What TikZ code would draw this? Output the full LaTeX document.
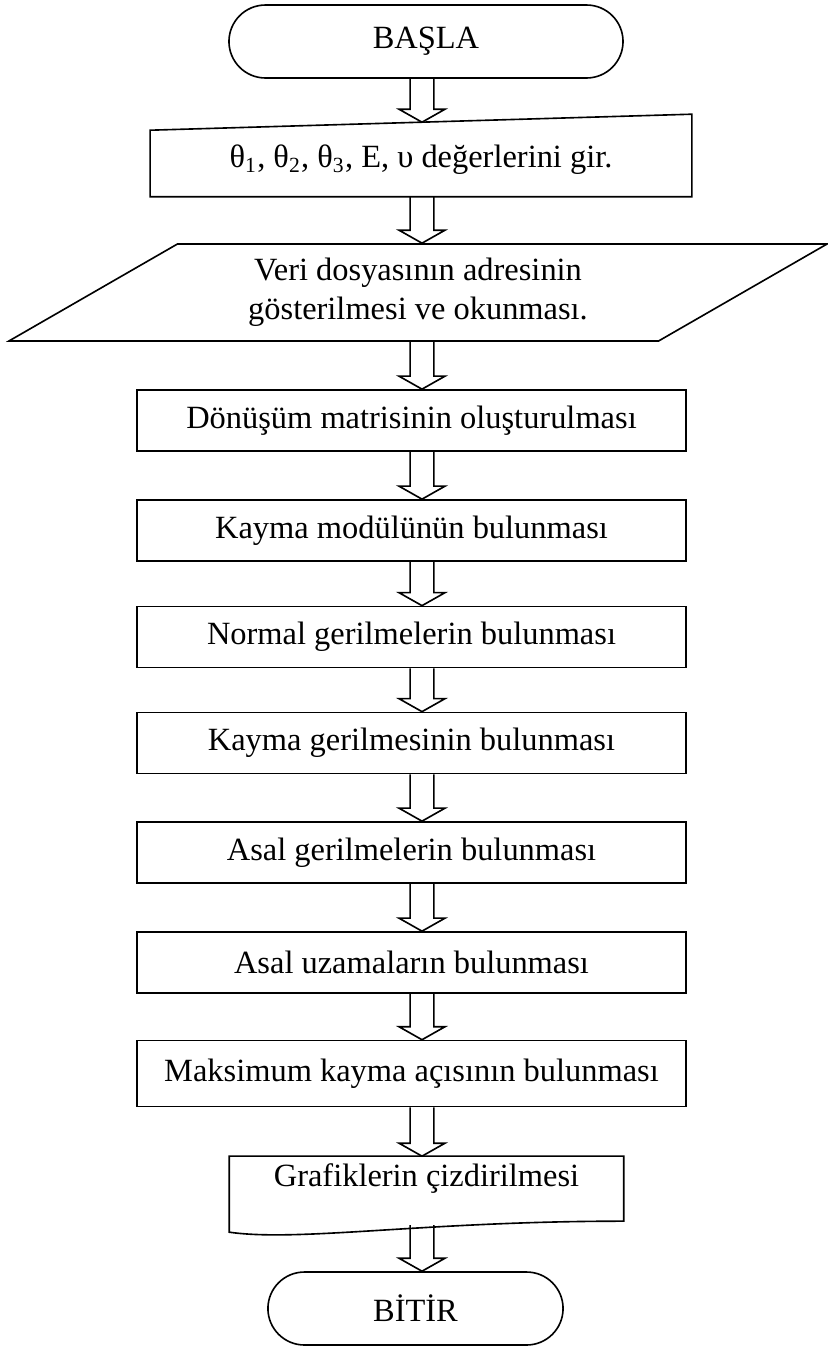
\documentclass[tikz,border=0pt]{standalone}
\usepackage{fontspec}
\setmainfont{Liberation Serif}
\usetikzlibrary{shapes.geometric, shapes.misc, calc}

\begin{document}
\begin{tikzpicture}[
    x=0.37pt, y=-0.37pt,
    line width=0.6pt,
    font=\fontsize{12}{14.5}\selectfont,
    terminal/.style={draw, rounded rectangle, minimum width=#1, minimum height=27pt, inner sep=0pt},
    process/.style={draw, rectangle, minimum width=203.1pt, minimum height=22.6pt, inner sep=0pt},
    io/.style={draw, trapezium, trapezium left angle=30, trapezium right angle=150,
        trapezium stretches=true, minimum width=303.4pt, minimum height=35.9pt,
        align=center, inner sep=0pt},
    arrow/.style={to path={let \p1=(\tikztostart), \p2=(\tikztotarget) in
        (\x1-4.4pt,\y1) -- (\x1-4.4pt,\y2+4.8pt) -- (\x1-8.5pt,\y2+4.8pt) -- (\x1,\y2)
        -- (\x1+8.5pt,\y2+4.8pt) -- (\x1+4.4pt,\y2+4.8pt) -- (\x1+4.4pt,\y1)}}
]
\useasboundingbox (0,0) rectangle (828,1349);

% Nodes
\node (basla) [terminal=145.8pt] at (426,41.5) {BAŞLA};
\node (giris) [minimum width=199.8pt, minimum height=27pt, inner sep=0pt] at (421,159.5)
    {θ\textsubscript{1}, θ\textsubscript{2}, θ\textsubscript{3}, E, υ değerlerini gir.};
\node (veri) [io] at (418,292.5) {Veri dosyasının adresinin\\gösterilmesi ve okunması.};
\node (donusum) [process] at (411.5,420.5) {Dönüşüm matrisinin oluşturulması};
\node (kaymamod) [process] at (411.5,530.5) {Kayma modülünün bulunması};
\node (normal) [process] at (411.5,637) {Normal gerilmelerin bulunması};
\node (kaymager) [process] at (411.5,743) {Kayma gerilmesinin bulunması};
\node (asalger) [process] at (411.5,852.5) {Asal gerilmelerin bulunması};
\node (asaluz) [process] at (411.5,962.5) {Asal uzamaların bulunması};
\node (maks) [process, minimum height=24.4pt] at (411.5,1073.5) {Maksimum kayma açısının bulunması};
\node (grafik) [minimum width=145.4pt, minimum height=16.3pt, inner sep=0pt] at (426.5,1179) {Grafiklerin çizdirilmesi};
\node (bitir) [terminal=109.2pt] at (415.5,1308.5) {BİTİR};

% Manual input and document outlines
\draw (giris.south west) -- (giris.south east) -- ($(giris.north east)+(0,-8)$)
    -- ($(giris.north west)+(0,8)$) -- cycle;
\draw (grafik.north west) -- (grafik.north east) -- ++(0,65)
    .. controls +(-200,0) and +(70,10) .. ($(grafik.north west)+(0,76)$) -- cycle;

% Arrows
\coordinate (axis) at (422,0);
\coordinate (grafikalt) at ($(grafik.north)+(0,69)$);
\draw [arrow] (basla.south -| axis) to (giris.north -| axis);
\draw [arrow] (giris.south -| axis) to (veri.north -| axis);
\draw [arrow] (veri.south -| axis) to (donusum.north -| axis);
\draw [arrow] (donusum.south -| axis) to (kaymamod.north -| axis);
\draw [arrow] (kaymamod.south -| axis) to (normal.north -| axis);
\draw [arrow] (normal.south -| axis) to (kaymager.north -| axis);
\draw [arrow] (kaymager.south -| axis) to (asalger.north -| axis);
\draw [arrow] (asalger.south -| axis) to (asaluz.north -| axis);
\draw [arrow] (asaluz.south -| axis) to (maks.north -| axis);
\draw [arrow] (maks.south -| axis) to (grafik.north -| axis);
\draw [arrow] (grafikalt -| axis) to (bitir.north -| axis);

\end{tikzpicture}
\end{document}
